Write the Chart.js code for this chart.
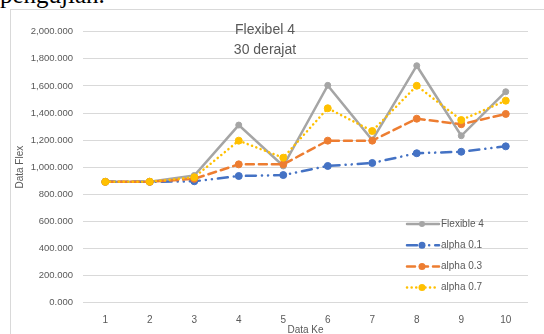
<!DOCTYPE html>
<html>
<head>
<meta charset="utf-8">
<script src="https://cdn.jsdelivr.net/npm/chart.js@4.4.1/dist/chart.umd.min.js"></script>
<style>
  body { margin:0; background:#fff; overflow:hidden; width:544px; height:334px; }
  #doc { position:absolute; left:0; top:-18px; font:25px "Liberation Serif", serif; line-height:1; color:#000; }
  #box { position:absolute; left:10px; top:9px; width:533px; height:324px; border:1px solid #d9d9d9; background:#fff; }
</style>
</head>
<body>
<div id="doc">pengujian.</div>
<div id="box"><canvas id="chart" width="533" height="324"></canvas></div>
<script>
// data
var categories = ["1", "2", "3", "4", "5", "6", "7", "8", "9", "10"];
var flexible4 = [892, 893, 939, 1311, 1009, 1604, 1200, 1749, 1232, 1557];
var alpha01 = [892, 892, 896, 935, 942, 1009, 1031, 1103, 1114, 1154];
var alpha03 = [892, 892, 914, 1021, 1021, 1196, 1196, 1358, 1317, 1393];
var alpha07 = [892, 893, 926, 1196, 1070, 1435, 1267, 1601, 1348, 1491];
var titleLines = ["Flexibel 4", "30 derajat"];
var yMin = 0, yMax = 2000, yStep = 200;

var txt = '#595959';
var fam = '"Liberation Sans", Arial, sans-serif';

function ds(label, data, color, dash, order, r) {
  return {
    label: label, data: data,
    borderColor: color, backgroundColor: color,
    pointBackgroundColor: color, pointBorderColor: color,
    borderWidth: 2.5, borderDash: dash, borderCapStyle: 'round',
    pointRadius: r, pointHoverRadius: r, pointBorderWidth: 1,
    tension: 0, order: order
  };
}

// title + legend drawn inside the plot, like the Excel chart
var overlay = {
  id: 'overlay',
  afterDraw: function(chart) {
    var ctx = chart.ctx;
    ctx.save();
    ctx.fillStyle = txt;
    ctx.textAlign = 'center';
    ctx.textBaseline = 'middle';
    ctx.font = '14px ' + fam;
    ctx.fillText(titleLines[0], 254, 20);
    ctx.fillText(titleLines[1], 254, 40);

    ctx.font = '10px ' + fam;
    ctx.textAlign = 'left';
    chart.data.datasets.forEach(function(d, i) {
      var y = 214 + i * 21.2;
      ctx.strokeStyle = d.borderColor;
      ctx.lineWidth = d.borderWidth;
      ctx.lineCap = 'round';
      ctx.setLineDash(d.borderDash);
      ctx.beginPath();
      ctx.moveTo(396, y);
      ctx.lineTo(428, y);
      ctx.stroke();
      ctx.setLineDash([]);
      ctx.beginPath();
      ctx.arc(411, y, d.pointRadius, 0, Math.PI * 2);
      ctx.fillStyle = d.backgroundColor;
      ctx.fill();
      ctx.fillStyle = txt;
      ctx.fillText(d.label, 430, y);
    });
    ctx.restore();
  }
};

var myChart = new Chart(document.getElementById('chart'), {
  type: 'line',
  data: {
    labels: categories,
    datasets: [
      ds('Flexible 4', flexible4, '#A5A5A5', [], 4, 3),
      ds('alpha 0.1', alpha01, '#4472C4', [10, 6, 0.1, 6, 0.1, 6], 3, 3.5),
      ds('alpha 0.3', alpha03, '#ED7D31', [8, 5], 2, 3.5),
      ds('alpha 0.7', alpha07, '#FFC000', [0.1, 4.5], 1, 3.5)
    ]
  },
  options: {
    responsive: false,
    animation: false,
    layout: { padding: { top: 21.7, right: 16, left: 0, bottom: 0 } },
    plugins: { legend: { display: false }, title: { display: false }, tooltip: { enabled: false } },
    scales: {
      x: {
        offset: true,
        grid: { display: false },
        border: { display: false },
        ticks: { color: txt, font: { family: fam, size: 10 }, padding: 3.5, maxRotation: 0 },
        title: { display: true, text: 'Data Ke', color: txt, font: { family: fam, size: 10 }, padding: { top: 0, bottom: -2 } },
        afterFit: function(s) { s.height = 31.3; }
      },
      y: {
        min: yMin, max: yMax,
        grid: { color: '#d9d9d9', lineWidth: 1, drawTicks: false },
        border: { display: false },
        ticks: {
          stepSize: yStep, color: txt, font: { family: fam, size: 9.5 }, padding: 10,
          callback: function(v) { return v.toLocaleString('en-US', { minimumFractionDigits: 3, maximumFractionDigits: 3 }); }
        },
        title: { display: true, text: 'Data Flex', color: txt, font: { family: fam, size: 10 }, padding: { top: 3.7, bottom: 0 } },
        afterFit: function(s) { s.width = 72; }
      }
    }
  },
  plugins: [overlay]
});
</script>
</body>
</html>
